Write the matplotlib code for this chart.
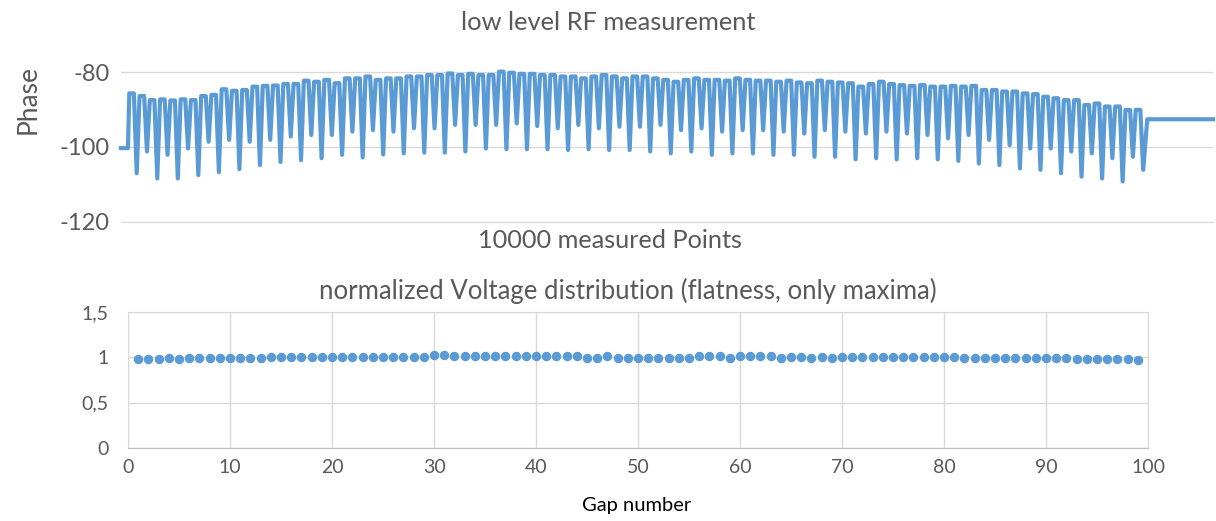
import numpy as np
import matplotlib.pyplot as plt

plt.rcParams['font.family'] = ['Lato', 'DejaVu Sans']
plt.rcParams['axes.unicode_minus'] = False

# ---- top panel: low level RF phase trace ----
# flat level before the structure and after it
phase_start = -100.3
phase_end = -92.6
# first peak, then per cell: peak a, small dip, peak b, deep dip
first_peak = -85.7
peak_a = [-86.4, -87.3, -87.3, -86.4, -84.6, -84.8, -83.7, -83.2, -82.3, -82.1,
          -81.7, -81.2, -81.7, -81.2, -80.8, -80.4, -80.5, -80.8, -80.2, -80.5,
          -80.8, -81.2, -81.2, -81.2, -81.2, -81.7, -82.6, -81.7, -82.1, -81.7,
          -82.3, -82.6, -82.8, -82.3, -82.8, -83.9, -82.6, -83.5, -83.5, -83.9,
          -83.9, -84.8, -85.2, -85.7, -86.6, -87.5, -88.8, -89.2, -90.1]
peak_b = [-87.5, -87.6, -87.5, -86.1, -85.0, -83.9, -83.6, -83.2, -82.6, -83.0,
          -81.7, -82.1, -81.7, -81.2, -80.8, -80.8, -80.8, -79.9, -80.5, -80.8,
          -81.2, -81.7, -80.8, -81.7, -81.2, -82.1, -82.1, -82.1, -82.3, -82.1,
          -82.3, -82.3, -83.0, -82.6, -83.0, -83.2, -83.2, -83.7, -83.9, -83.7,
          -83.7, -84.8, -85.2, -85.9, -87.0, -87.5, -88.4, -89.2, -90.1]
mid_dip = [-101.2, -102.1, -100.4, -98.6, -98.1, -98.6, -98.1, -97.2, -96.8, -96.8,
           -95.9, -95.5, -95.9, -95.0, -95.0, -94.1, -94.1, -94.1, -93.7, -94.4,
           -95.0, -94.1, -95.0, -94.6, -94.6, -94.1, -95.5, -95.0, -95.9, -95.5,
           -95.5, -95.9, -96.4, -95.5, -95.9, -96.4, -95.9, -96.4, -96.8, -97.7,
           -96.8, -98.1, -99.5, -100.4, -100.4, -101.2, -101.7, -103.0, -102.6]
deep_dip = [-107.0, -108.4, -108.4, -107.5, -106.7, -105.9, -104.8, -104.0, -103.5, -103.0,
            -102.1, -102.8, -102.0, -101.7, -101.5, -101.5, -101.2, -100.4, -100.6, -100.6,
            -100.6, -100.8, -100.6, -100.8, -100.8, -101.2, -101.7, -101.2, -102.1, -101.7,
            -101.7, -102.1, -102.1, -102.6, -102.6, -103.3, -103.0, -103.3, -103.0, -103.3,
            -103.7, -104.4, -104.8, -105.7, -106.1, -107.0, -107.9, -108.4, -109.2, -106.1]
n_points = 10000
first_dip_at = 144      # sample index of the first deep dip
cell_len = 188.1        # samples per cell (two gaps)

# ---- bottom panel: normalized voltage per gap ----
gap_number = list(range(1, 100))
voltage = [0.982, 0.982, 0.982, 0.998, 0.978, 0.996, 0.996, 0.996, 0.996, 0.993,
           0.993, 0.993, 0.993, 1.007, 1.007, 1.007, 1.007, 1.007, 1.007, 1.007,
           1.007, 1.007, 1.007, 1.007, 1.007, 1.007, 1.007, 1.007, 1.007, 1.025,
           1.025, 1.011, 1.011, 1.011, 1.011, 1.011, 1.011, 1.011, 1.011, 1.011,
           1.011, 1.011, 1.011, 1.011, 0.996, 0.996, 1.011, 0.996, 0.996, 0.993,
           0.996, 0.996, 0.996, 0.996, 0.996, 1.011, 1.011, 1.011, 0.996, 1.011,
           1.011, 1.011, 1.011, 0.996, 1.009, 1.009, 0.992, 1.007, 0.990, 1.007,
           1.007, 1.007, 1.007, 1.007, 1.007, 1.007, 1.007, 1.007, 1.007, 1.007,
           1.007, 0.990, 0.990, 0.990, 0.990, 0.990, 0.990, 0.990, 0.990, 0.990,
           0.990, 0.990, 0.978, 0.978, 0.978, 0.978, 0.978, 0.978, 0.971]

blue = '#5B9BD5'
grey_txt = '#595959'
grid_c = '#D9D9D9'

# build the trace from the read extrema; each peak is a short rounded top
q = cell_len / 4
w = 0.45 * q
xs = [0, first_dip_at - 1.7 * q, first_dip_at - q - w, first_dip_at - q + w, first_dip_at]
ys = [phase_start, phase_start, first_peak, first_peak, deep_dip[0]]
for i in range(len(peak_a)):
    x0 = first_dip_at + i * cell_len
    xs += [x0 + q - w, x0 + q + w, x0 + 2 * q, x0 + 3 * q - w, x0 + 3 * q + w, x0 + 4 * q]
    ys += [peak_a[i], peak_a[i], mid_dip[i], peak_b[i], peak_b[i], deep_dip[i + 1]]
xs += [xs[-1] + 0.8 * q, n_points]
ys += [phase_end, phase_end]

fig = plt.figure(figsize=(12.16, 5.21), dpi=100)

def fx(px):
    return px / 1216

def fy(py):
    return 1 - py / 521

ax1 = fig.add_axes([0.0995, 0.5739, 0.898, 0.2987])
ax1.plot(xs, ys, color=blue, lw=3.0, solid_joinstyle='round', clip_on=False)
ax1.set_xlim(0, n_points)
ax1.set_ylim(-120, -78.5)
ax1.set_yticks([-80, -100, -120])
ax1.set_xticks([])
ax1.grid(axis='y', color=grid_c, lw=1)
ax1.set_axisbelow(True)
for s in ['top', 'right', 'left']:
    ax1.spines[s].set_visible(False)
ax1.spines['bottom'].set_color(grid_c)
ax1.tick_params(axis='y', length=0, labelsize=17, labelcolor=grey_txt, pad=8)

fig.text(fx(608), fy(22), 'low level RF measurement', fontsize=18.3, color=grey_txt,
         ha='center', va='center')
fig.text(fx(610), fy(240), '10000 measured Points', fontsize=18.2, color=grey_txt,
         ha='center', va='center')
fig.text(fx(28), fy(100), 'Phase', fontsize=19, color=grey_txt, rotation=90,
         ha='center', va='center')

ax2 = fig.add_axes([0.1053, 0.1401, 0.8388, 0.2611])
ax2.plot(gap_number, voltage, 'o', color=blue, ms=5.8, clip_on=False)
ax2.set_xlim(0, 100)
ax2.set_ylim(0, 1.5)
ax2.set_xticks(range(0, 101, 10))
ax2.set_yticks([0, 0.5, 1, 1.5])
ax2.set_yticklabels(['0', '0,5', '1', '1,5'])
ax2.grid(color=grid_c, lw=1)
ax2.set_axisbelow(True)
for s in ax2.spines.values():
    s.set_color(grid_c)
ax2.spines['bottom'].set_color('#BFBFBF')
ax2.tick_params(length=0, labelsize=14, labelcolor=grey_txt)
ax2.tick_params(axis='x', pad=8)
ax2.tick_params(axis='y', pad=14)

fig.text(fx(628), fy(291), 'normalized Voltage distribution (flatness, only maxima)',
         fontsize=18.5, color=grey_txt, ha='center', va='center')
fig.text(fx(637), fy(505), 'Gap number', fontsize=14.5, color='black',
         ha='center', va='center')

fig.savefig('out.png', dpi=100)
